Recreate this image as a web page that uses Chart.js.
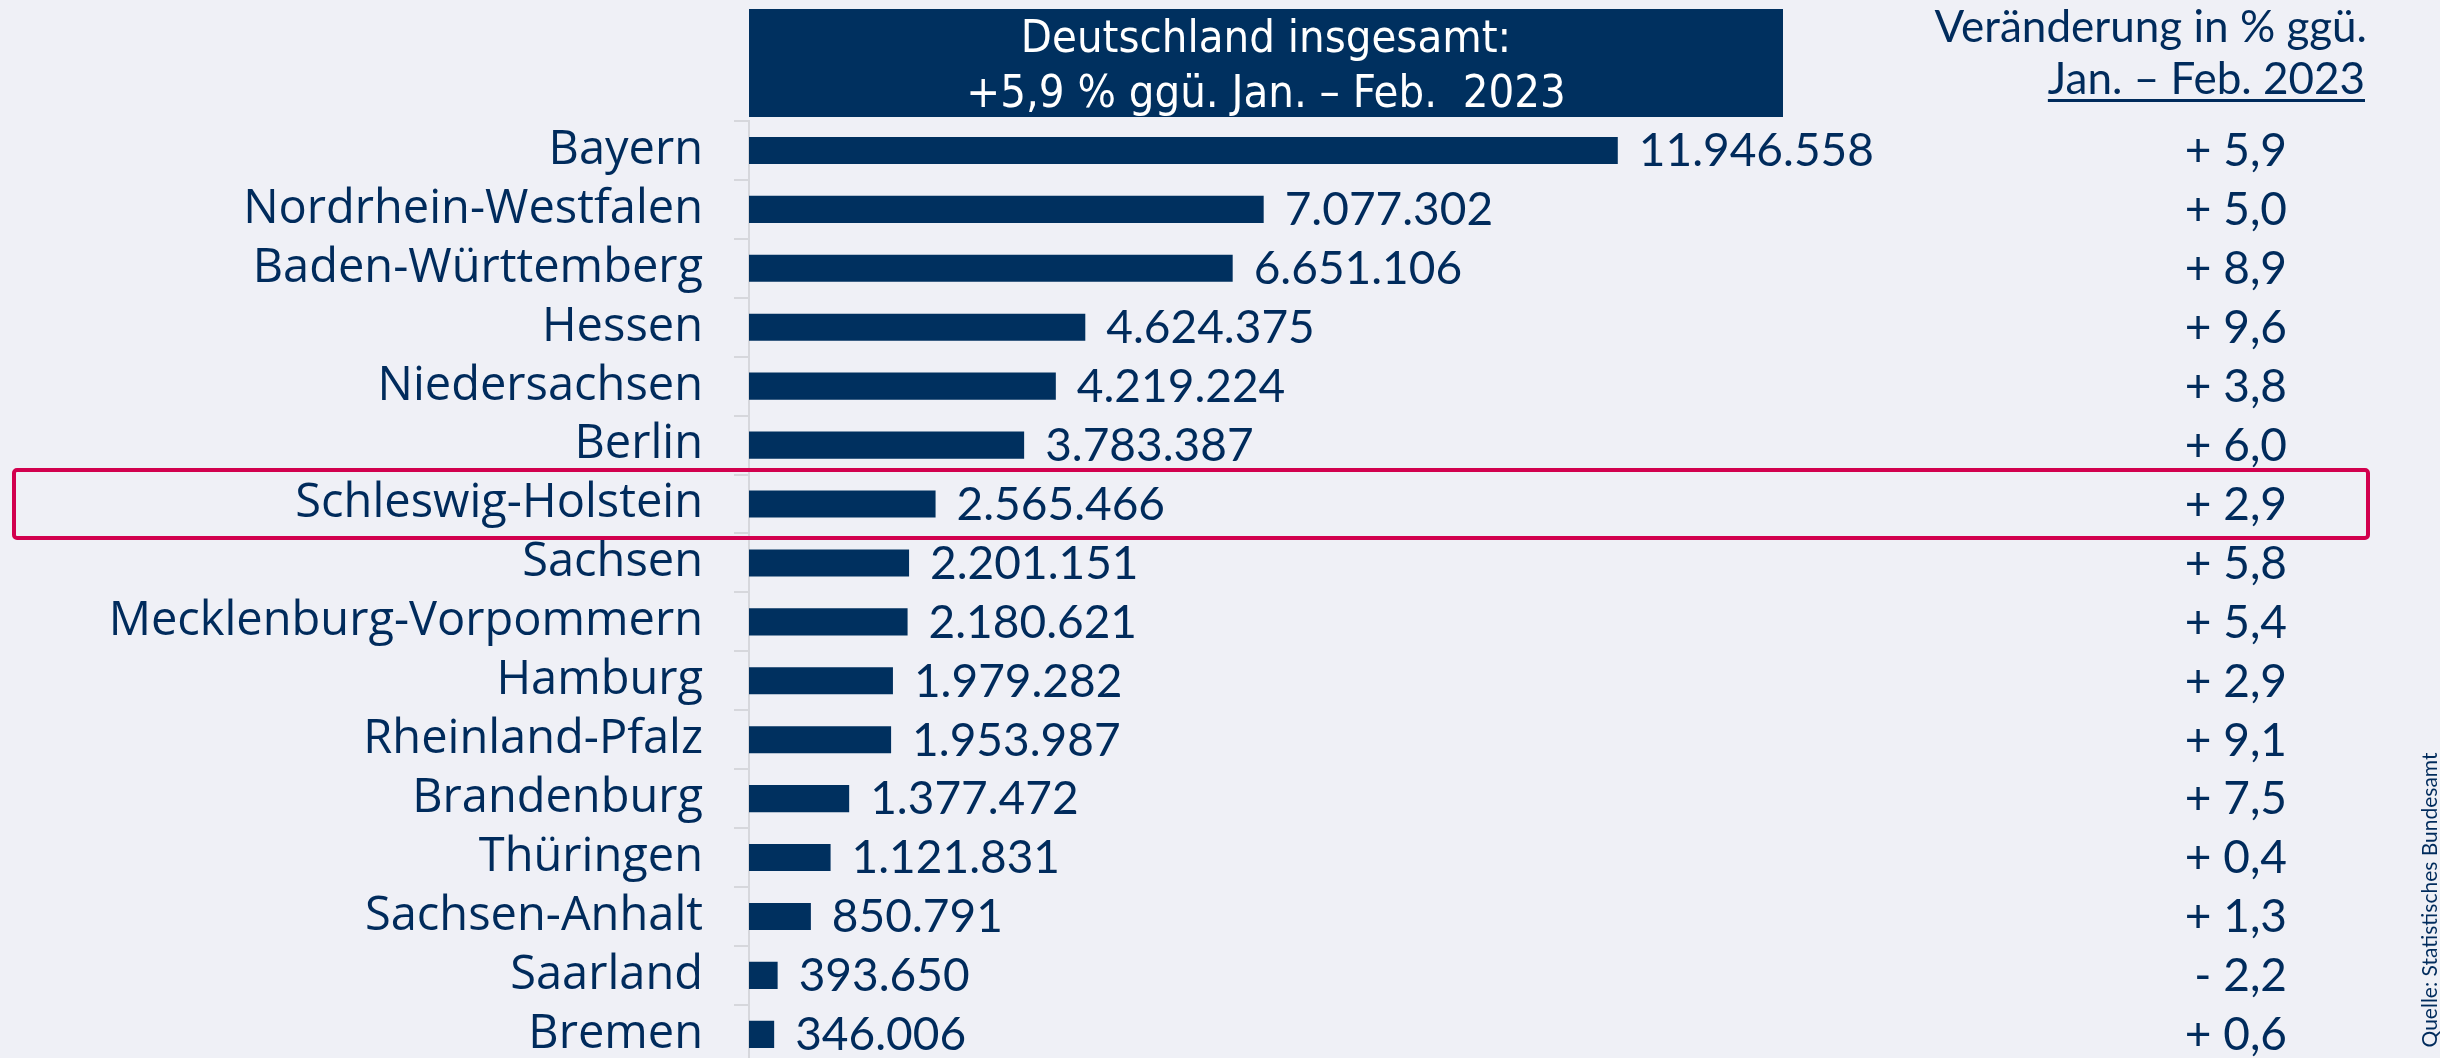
<!DOCTYPE html>
<html lang="de">
<head>
<meta charset="utf-8">
<title>Gästeankünfte nach Bundesländern</title>
<script src="https://cdn.jsdelivr.net/npm/chart.js@4.4.1/dist/chart.umd.min.js"></script>
<style>
  html, body { margin: 0; padding: 0; overflow: hidden; background: #eff0f6; }
  #frame { position: relative; width: 2440px; height: 1058px; overflow: hidden; background: #eff0f6; }
  #box { position: absolute; left: 0; top: 0; width: 2440px; height: 1123px; }
</style>
</head>
<body>
<div id="frame">
  <div id="box"><canvas id="chart"></canvas></div>
</div>
<script>
// ─── DATA ────────────────────────────────────────────────────
const states = [
    'Bayern', 'Nordrhein-Westfalen', 'Baden-Württemberg', 'Hessen',
    'Niedersachsen', 'Berlin', 'Schleswig-Holstein', 'Sachsen',
    'Mecklenburg-Vorpommern', 'Hamburg', 'Rheinland-Pfalz', 'Brandenburg',
    'Thüringen', 'Sachsen-Anhalt', 'Saarland', 'Bremen'
];
const arrivals = [
    11946558, 7077302, 6651106, 4624375,
    4219224, 3783387, 2565466, 2201151,
    2180621, 1979282, 1953987, 1377472,
    1121831, 850791, 393650, 346006
];
const changePct = [
    5.9, 5.0, 8.9, 9.6,
    3.8, 6.0, 2.9, 5.8,
    5.4, 2.9, 9.1, 7.5,
    0.4, 1.3, -2.2, 0.6
];
const totalLines   = ['Deutschland insgesamt:', '+5,9 % ggü. Jan. – Feb.  2023'];
const changeHeader = ['Veränderung in % ggü.', 'Jan. – Feb. 2023'];
const highlight    = 'Schleswig-Holstein';
const source       = 'Quelle: Statistisches Bundesamt';

// ─── STYLE ───────────────────────────────────────────────────
const NAVY   = '#002b5c';
const BAR    = '#00305f';
const GRID   = '#d6d7dc';
const RED    = '#d2004e';
const FONT   = 'Lato, "Open Sans", sans-serif';
const LABEL  = '"Open Sans", Lato, sans-serif';
const NARROW = '"Liberation Sans Narrow", "DejaVu Sans Condensed", sans-serif';

// german formatting
const fmtNum = n => String(n).replace(/\B(?=(\d{3})+(?!\d))/g, '.');
const fmtPct = v => (v < 0 ? '- ' : '+ ') + Math.abs(v).toFixed(1).replace('.', ',');

// ─── OVERLAY PLUGIN ──────────────────────────────────────────
const overlay = {
    id: 'overlay',
    afterDatasetsDraw(chart) {
        const ctx = chart.ctx;
        const y = chart.scales.y;
        const area = chart.chartArea;
        const meta = chart.getDatasetMeta(0);
        ctx.save();

        // value labels next to bars
        ctx.fillStyle = NAVY;
        ctx.font = '400 46px ' + FONT;
        ctx.textAlign = 'left';
        ctx.textBaseline = 'middle';
        meta.data.forEach((bar, i) => {
            ctx.fillText(fmtNum(arrivals[i]), bar.x + 21, bar.y + 1);
        });

        // change column
        ctx.textAlign = 'right';
        changePct.forEach((v, i) => {
            ctx.fillText(fmtPct(v), 2287, y.getPixelForValue(i) + 1);
        });

        // header box over bars
        ctx.fillStyle = '#00305f';
        ctx.fillRect(area.left, 9, 1783 - area.left, 108);
        ctx.fillStyle = '#ffffff';
        ctx.font = '300 45px ' + NARROW;
        ctx.textAlign = 'center';
        ctx.textBaseline = 'alphabetic';
        const cx = (area.left + 1783) / 2;
        ctx.fillText(totalLines[0], cx, 52);
        ctx.fillText(totalLines[1], cx, 107);

        // right column header
        ctx.fillStyle = NAVY;
        ctx.font = '400 44px ' + FONT;
        ctx.textAlign = 'right';
        ctx.fillText(changeHeader[0], 2367, 42);
        ctx.fillText(changeHeader[1], 2365, 94);
        const w = ctx.measureText(changeHeader[1]).width;
        ctx.fillRect(2365 - w, 99, w, 3);

        // highlight frame
        const hy = y.getPixelForValue(states.indexOf(highlight));
        ctx.strokeStyle = RED;
        ctx.lineWidth = 4;
        ctx.beginPath();
        ctx.roundRect(14, hy - 34, 2354, 68, 3);
        ctx.stroke();

        // source, rotated
        ctx.translate(2430, 900);
        ctx.rotate(-Math.PI / 2);
        ctx.fillStyle = NAVY;
        ctx.font = '400 21px ' + FONT;
        ctx.textAlign = 'center';
        ctx.textBaseline = 'middle';
        ctx.fillText(source, 0, 0);

        ctx.restore();
    }
};

// ─── CHART ───────────────────────────────────────────────────
new Chart(document.getElementById('chart'), {
    type: 'bar',
    data: {
        labels: states,
        datasets: [{
            data: arrivals,
            backgroundColor: BAR,
            borderWidth: 0,
            barPercentage: 0.46,
            categoryPercentage: 1
        }]
    },
    options: {
        indexAxis: 'y',
        responsive: true,
        maintainAspectRatio: false,
        animation: false,
        layout: { padding: { top: 121, bottom: 15, left: 0, right: 382 } },
        plugins: {
            legend: { display: false },
            tooltip: { enabled: false }
        },
        scales: {
            x: { display: false, min: 0, max: 18000000 },
            y: {
                afterFit: s => { s.width = 749; },
                border: { display: true, color: GRID, width: 2 },
                grid: { drawOnChartArea: false, drawTicks: true, tickLength: 15, color: GRID, lineWidth: 2 },
                ticks: { color: NAVY, padding: 31, font: { family: LABEL, size: 47, weight: '400' } }
            }
        }
    },
    plugins: [overlay]
});
</script>
</body>
</html>
